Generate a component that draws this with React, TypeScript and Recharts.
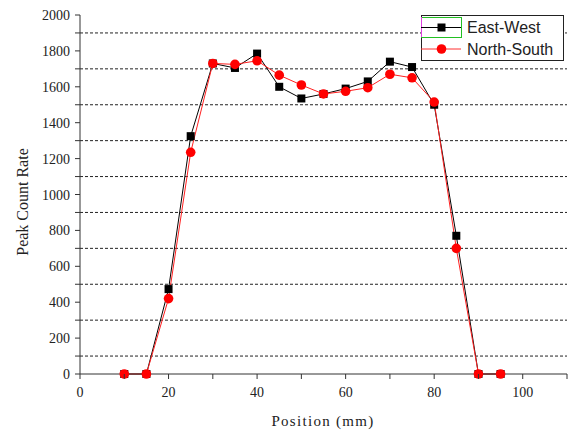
import { LineChart, Line, XAxis, YAxis, ReferenceLine, Legend } from "recharts";

const positions = [10, 15, 20, 25, 30, 35, 40, 45, 50, 55, 60, 65, 70, 75, 80, 85, 90, 95];
const eastWest = [0, 0, 473, 1325, 1730, 1705, 1785, 1600, 1535, 1560, 1590, 1630, 1740, 1710, 1500, 770, 0, 0];
const northSouth = [0, 0, 420, 1235, 1730, 1725, 1745, 1665, 1610, 1560, 1575, 1595, 1670, 1650, 1515, 700, 0, 0];

const xTicks = [0, 10, 20, 30, 40, 50, 60, 70, 80, 90, 100, 110];
const yTicks = [0, 100, 200, 300, 400, 500, 600, 700, 800, 900, 1000, 1100, 1200, 1300, 1400, 1500, 1600, 1700, 1800, 1900, 2000];
const gridLines = [100, 300, 500, 700, 900, 1100, 1300, 1500, 1700, 1900];

const SERIF = "'Liberation Serif', 'Times New Roman', serif";
const SANS = "'Liberation Sans', Arial, sans-serif";

const data = positions.map((p, i) => ({ pos: p, ew: eastWest[i], ns: northSouth[i] }));

const XTick = ({ x, y, payload }: any) => {
  const major = payload.value % 20 === 0 && payload.value <= 100;
  return (
    <g>
      <line x1={x} x2={x} y1={y} y2={y + 5} stroke="#333" strokeWidth={1} />
      {major && (
        <text x={x} y={y + 23} textAnchor="middle" fontFamily={SERIF} fontSize={14} fill="#222">
          {payload.value}
        </text>
      )}
    </g>
  );
};

const YTick = ({ x, y, payload }: any) => {
  const major = payload.value % 200 === 0;
  return (
    <g>
      <line x1={x - 5} x2={x} y1={y} y2={y} stroke="#333" strokeWidth={1} />
      {major && (
        <text x={x - 10} y={y + 5} textAnchor="end" fontFamily={SERIF} fontSize={14} fill="#222">
          {payload.value}
        </text>
      )}
    </g>
  );
};

const YTitle = () => (
  <text
    x={28}
    y={202}
    transform="rotate(-90 28 202)"
    textAnchor="middle"
    fontFamily={SERIF}
    fontSize={16}
    fill="#222"
  >
    Peak Count Rate
  </text>
);

const XTitle = () => (
  <text x={323} y={426} textAnchor="middle" fontFamily={SERIF} fontSize={15} letterSpacing={1.3} fill="#222">
    Position (mm)
  </text>
);

const Square = ({ cx, cy, index }: any) => (
  <rect key={`sq-${index}`} x={cx - 4} y={cy - 4} width={8} height={8} fill="#000" />
);

const Circle = ({ cx, cy, index }: any) => (
  <circle key={`ci-${index}`} cx={cx} cy={cy} r={4.8} fill="#ff0000" />
);

const LegendBox = () => (
  <svg width={143} height={46} style={{ display: "block" }}>
    <rect x={0.5} y={0.5} width={142} height={45} fill="#fff" stroke="#222" strokeWidth={1} />
    <rect x={0.5} y={2.5} width={40} height={20} fill="none" stroke="#22c022" strokeWidth={1} />
    <line x1={0.5} x2={0.5} y1={2} y2={22} stroke="#e040e0" />
    <line x1={0} x2={40} y1={12.5} y2={12.5} stroke="#000" />
    <rect x={16.5} y={8.5} width={8} height={8} fill="#000" />
    <line x1={0} x2={40} y1={34} y2={34} stroke="#ff3030" />
    <circle cx={20.5} cy={34} r={4.8} fill="#ff0000" />
    <text x={46} y={18} fontFamily={SANS} fontSize={16} fill="#222">East-West</text>
    <text x={46} y={39.5} fontFamily={SANS} fontSize={16} fill="#222">North-South</text>
  </svg>
);

const App = () => (
  <div style={{ position: "absolute", left: 0, top: 0, background: "#fff" }}>
    <LineChart width={569} height={433} data={data} margin={{ top: 15, right: 2, bottom: 7, left: 8 }}>
      {gridLines.map((v) => (
        <ReferenceLine key={v} y={v} stroke="#222" strokeDasharray="3 2" strokeWidth={1} />
      ))}
      <XAxis
        dataKey="pos"
        type="number"
        domain={[0, 110]}
        ticks={xTicks}
        interval={0}
        tickSize={0}
        tickMargin={0}
        tick={<XTick />}
        height={52}
        stroke="#333"
        label={<XTitle />}
      />
      <YAxis
        type="number"
        domain={[0, 2000]}
        ticks={yTicks}
        interval={0}
        tickSize={0}
        tickMargin={0}
        tick={<YTick />}
        width={72}
        stroke="#333"
        label={<YTitle />}
      />
      <Legend
        layout="horizontal"
        verticalAlign="middle"
        align="center"
        content={<LegendBox />}
        wrapperStyle={{ position: "absolute", left: 421, top: 15, width: 143, height: 46 }}
      />
      <Line
        dataKey="ew"
        name="East-West"
        stroke="#000"
        strokeWidth={1}
        dot={Square}
        activeDot={false}
        isAnimationActive={false}
      />
      <Line
        dataKey="ns"
        name="North-South"
        stroke="#ff2020"
        strokeWidth={1}
        dot={Circle}
        activeDot={false}
        isAnimationActive={false}
      />
    </LineChart>
  </div>
);

export default App;
